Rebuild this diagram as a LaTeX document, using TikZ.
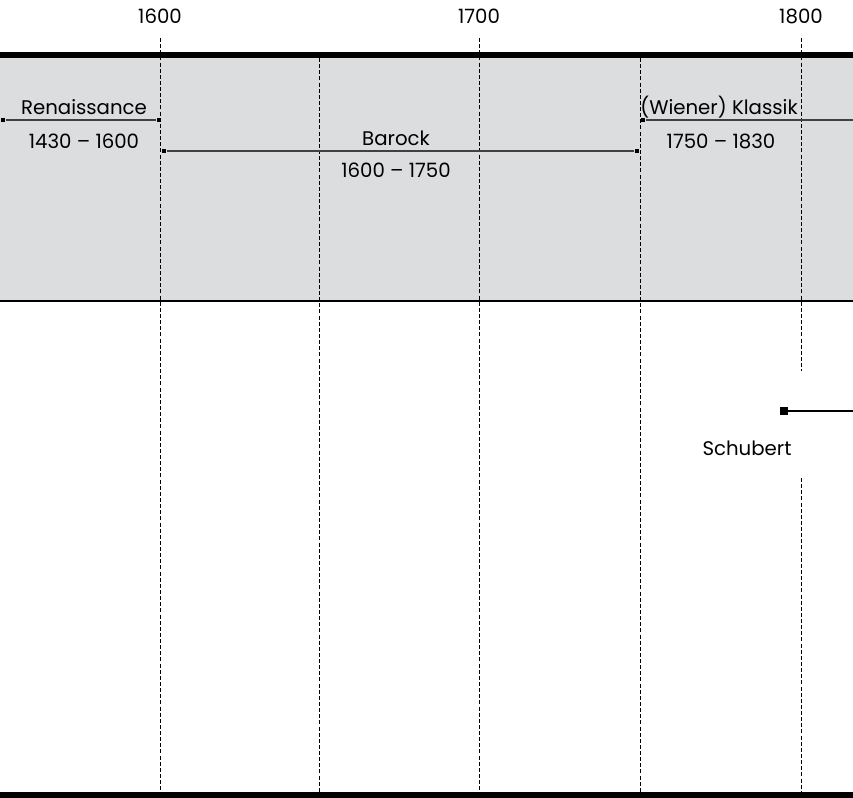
\documentclass[tikz,border=0pt]{standalone}
\usepackage{fontspec}
\setmainfont{Poppins}
\usepackage{tikz}

\definecolor{epochgray}{RGB}{220,221,223}

\tikzset{
  txt/.style={inner sep=0.75pt, font=\fontsize{14.8}{17}\selectfont},
  yeargrid/.style={dash pattern=on 3pt off 1.6pt, line width=0.7pt},
  erabar/.style={line width=1pt, draw=black!75},
  tipbox/.style={fill=black, draw=none, inner sep=0pt, minimum size=3.6pt},
  lifebar/.style={line width=1.6pt},
}

\begin{document}
\begin{tikzpicture}[x=0.75pt,y=0.75pt,yscale=-1,xscale=1]
\useasboundingbox (0,0) rectangle (853,798);

% gray epoch band
\fill[epochgray] (0,57) rectangle (853,300);

% year grid
\draw[yeargrid] (160,38) -- (160,792);
\draw[yeargrid] (319,58) -- (319,792);
\draw[yeargrid] (479,38) -- (479,792);
\draw[yeargrid] (640,58) -- (640,792);
\draw[yeargrid] (801,38) -- (801,371);
\draw[yeargrid] (801,478) -- (801,792);

% frame lines
\draw[line width=5.2pt] (0,55) -- (853,55);
\draw[line width=2.2pt] (0,301) -- (853,301);
\draw[line width=4.6pt] (0,795) -- (853,795);

% year labels
\node[txt] (y1600) at (160,16) {1600};
\node[txt] (y1700) at (479,16) {1700};
\node[txt] (y1800) at (801,16) {1800};

% Renaissance
\node[tipbox] (renA) at (3,120) {};
\node[tipbox] (renB) at (159,120) {};
\draw[erabar] (renA) -- (renB);
\node[txt] (ren) at (84,107) {Renaissance};
\node[txt] (renY) at (84,141) {1430 -- 1600};

% Barock
\node[tipbox] (barA) at (164,151) {};
\node[tipbox] (barB) at (637,151) {};
\draw[erabar] (barA) -- (barB);
\node[txt] (bar) at (396,138) {Barock};
\node[txt] (barY) at (396,170) {1600 -- 1750};

% Klassik
\node[tipbox] (klaA) at (643,120) {};
\coordinate (klaB) at (853,120);
\draw[erabar] (klaA) -- (klaB);
\node[txt] (kla) at (719,107) {(Wiener) Klassik};
\node[txt] (klaY) at (721,141) {1750 -- 1830};

% Schubert
\node[tipbox, minimum size=6pt] (schA) at (784,411) {};
\coordinate (schB) at (853,411);
\draw[lifebar] (schA) -- (schB);
\node[txt] (sch) at (747,448) {Schubert};

\end{tikzpicture}
\end{document}
